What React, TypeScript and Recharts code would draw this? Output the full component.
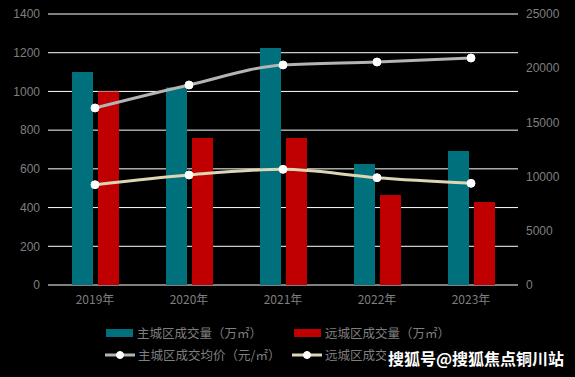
import { ComposedChart, Bar, Line, XAxis, YAxis, CartesianGrid } from "recharts";

const YEARS = ["2019年", "2020年", "2021年", "2022年", "2023年"];
const MAIN_VOLUME = [1100, 1020, 1225, 625, 692];
const FAR_VOLUME = [1000, 760, 760, 465, 429];
const MAIN_PRICE = [16330, 18450, 20300, 20570, 20940];
const FAR_PRICE = [9250, 10150, 10670, 9900, 9380];
const LEFT_TICKS = [0, 200, 400, 600, 800, 1000, 1200, 1400];
const RIGHT_TICKS = [0, 5000, 10000, 15000, 20000, 25000];

const TEAL = "#00707c";
const RED = "#c00000";
const GREY_LINE = "#b4b4b4";
const CREAM_LINE = "#ddd6b4";
const TICK_GREY = "#7f7f7f";
const NUM_FONT = "'Liberation Sans', Arial, 'Noto Sans CJK SC', sans-serif";
const CJK_FONT = "'Noto Sans CJK SC', 'Liberation Sans', sans-serif";

const data = YEARS.map((year, i) => ({
  year,
  mainVol: MAIN_VOLUME[i],
  farVol: FAR_VOLUME[i],
  mainPrice: MAIN_PRICE[i],
  farPrice: FAR_PRICE[i],
}));

function LegendSwatch({ color }: { color: string }) {
  return <span style={{ display: "inline-block", width: 27, height: 8, background: color, marginRight: 4 }} />;
}

function LegendLine({ color }: { color: string }) {
  return (
    <svg width={30} height={10} style={{ marginRight: 3 }}>
      <line x1={0} y1={5} x2={30} y2={5} stroke={color} strokeWidth={3} />
      <circle cx={15} cy={5} r={3.5} fill="#fff" stroke="#fff" />
    </svg>
  );
}

export default function App() {
  const labelStyle: React.CSSProperties = {
    position: "absolute",
    display: "flex",
    alignItems: "center",
    fontFamily: CJK_FONT,
    fontSize: 12.5,
    color: TICK_GREY,
    whiteSpace: "nowrap",
    lineHeight: "16px",
  };

  return (
    <div style={{ position: "relative", width: 575, height: 377, background: "#000", overflow: "hidden" }}>
      <style>{"body{margin:0;background:#000}"}</style>
      <ComposedChart
        width={575}
        height={377}
        data={data}
        margin={{ top: 14, right: 0, left: 0, bottom: 62 }}
        barGap={5}
        barSize={21}
      >
        <CartesianGrid yAxisId="left" vertical={false} stroke="#ffffff" strokeWidth={1} />
        <XAxis
          dataKey="year"
          height={30}
          axisLine={false}
          tickLine={false}
          tickMargin={4}
          tick={{ fill: TICK_GREY, fontSize: 12, fontFamily: CJK_FONT }}
        />
        <YAxis
          yAxisId="left"
          width={48}
          domain={[0, 1400]}
          ticks={LEFT_TICKS}
          axisLine={false}
          tickLine={false}
          tick={{ fill: TICK_GREY, fontSize: 12, fontFamily: NUM_FONT }}
        />
        <YAxis
          yAxisId="right"
          orientation="right"
          width={57}
          domain={[0, 25000]}
          ticks={RIGHT_TICKS}
          axisLine={false}
          tickLine={false}
          tick={{ fill: TICK_GREY, fontSize: 12, fontFamily: NUM_FONT }}
        />
        <Bar yAxisId="left" dataKey="mainVol" fill={TEAL} isAnimationActive={false} />
        <Bar yAxisId="left" dataKey="farVol" fill={RED} isAnimationActive={false} />
        <Line
          yAxisId="right"
          type="monotone"
          dataKey="mainPrice"
          stroke={GREY_LINE}
          strokeWidth={3}
          dot={{ r: 4, fill: "#fff", stroke: "#fff", strokeWidth: 1 }}
          isAnimationActive={false}
        />
        <Line
          yAxisId="right"
          type="monotone"
          dataKey="farPrice"
          stroke={CREAM_LINE}
          strokeWidth={3}
          dot={{ r: 4, fill: "#fff", stroke: "#fff", strokeWidth: 1 }}
          isAnimationActive={false}
        />
      </ComposedChart>

      <div style={{ ...labelStyle, left: 106, top: 325 }}>
        <LegendSwatch color={TEAL} />
        主城区成交量（万㎡）
      </div>
      <div style={{ ...labelStyle, left: 294, top: 325 }}>
        <LegendSwatch color={RED} />
        远城区成交量（万㎡）
      </div>
      <div style={{ ...labelStyle, left: 105, top: 347 }}>
        <LegendLine color={GREY_LINE} />
        主城区成交均价（元/㎡）
      </div>
      <div style={{ ...labelStyle, left: 292, top: 347 }}>
        <LegendLine color={CREAM_LINE} />
        远城区成交均价（元/㎡）
      </div>

      <div
        style={{
          position: "absolute",
          left: 386,
          top: 347,
          padding: "0 2px",
          background: "rgba(0,0,0,0.85)",
          color: "#fff",
          fontFamily: CJK_FONT,
          fontWeight: 700,
          fontSize: 16,
          lineHeight: "22px",
          whiteSpace: "nowrap",
        }}
      >
        搜狐号@搜狐焦点铜川站
      </div>
    </div>
  );
}
